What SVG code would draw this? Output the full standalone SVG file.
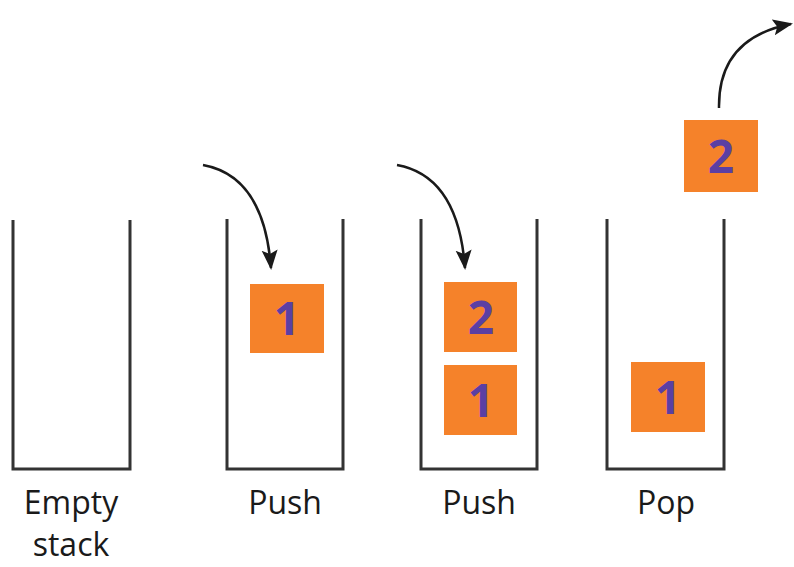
<svg xmlns="http://www.w3.org/2000/svg" width="794" height="567" viewBox="0 0 794 567">
  <defs>
    <marker id="head" viewBox="0 0 10 10" refX="9" refY="5" markerWidth="8" markerHeight="8" markerUnits="strokeWidth" orient="auto">
      <path d="M0,1 L10,5 L0,9 L2,5 Z" fill="#1a1a1a"/>
    </marker>
  </defs>
  <style>
    .stack { fill: none; stroke: #333; stroke-width: 3; stroke-linejoin: miter; }
    .box { fill: #f5822a; }
    .num { font-family: "Open Sans", "Noto Sans", sans-serif; font-weight: 700; font-size: 46px; fill: #5b3fa3; text-anchor: middle; }
    .label { font-family: "Open Sans", "Noto Sans", sans-serif; font-weight: 500; font-size: 32px; fill: #1a1a1a; text-anchor: middle; }
    .arrow { fill: none; stroke: #1a1a1a; stroke-width: 2.5; marker-end: url(#head); }
  </style>
  <rect width="794" height="567" fill="#ffffff"/>

  <g id="stack-empty">
    <path class="stack" d="M13,220 V469 H130 V220"/>
    <text class="label" x="71" y="514">Empty</text>
    <text class="label" x="71" y="556">stack</text>
  </g>

  <g id="stack-push1">
    <path class="stack" d="M227,219 V469 H343 V219"/>
    <rect class="box" x="250" y="284" width="74" height="69"/>
    <text class="num" x="287" y="335">1</text>
    <text class="label" x="285" y="514">Push</text>
  </g>

  <g id="stack-push2">
    <path class="stack" d="M421,219 V469 H537 V219"/>
    <rect class="box" x="444" y="282" width="73" height="70"/>
    <text class="num" x="481" y="334">2</text>
    <rect class="box" x="444" y="365" width="73" height="70"/>
    <text class="num" x="481" y="417">1</text>
    <text class="label" x="479" y="514">Push</text>
  </g>

  <g id="stack-pop">
    <path class="stack" d="M607,219 V469 H724 V219"/>
    <rect class="box" x="631" y="362" width="74" height="70"/>
    <text class="num" x="668" y="414">1</text>
    <text class="label" x="666" y="514">Pop</text>
  </g>

  <g id="popped-item">
    <rect class="box" x="684" y="120" width="74" height="72"/>
    <text class="num" x="721" y="173">2</text>
  </g>

  <g id="connectors">
    <path class="arrow" d="M203,165 Q264,176 271,268"/>
    <path class="arrow" d="M397,165 Q458,176 465,268"/>
    <path class="arrow" d="M719,108 Q718,38 791,24"/>
  </g>
</svg>
